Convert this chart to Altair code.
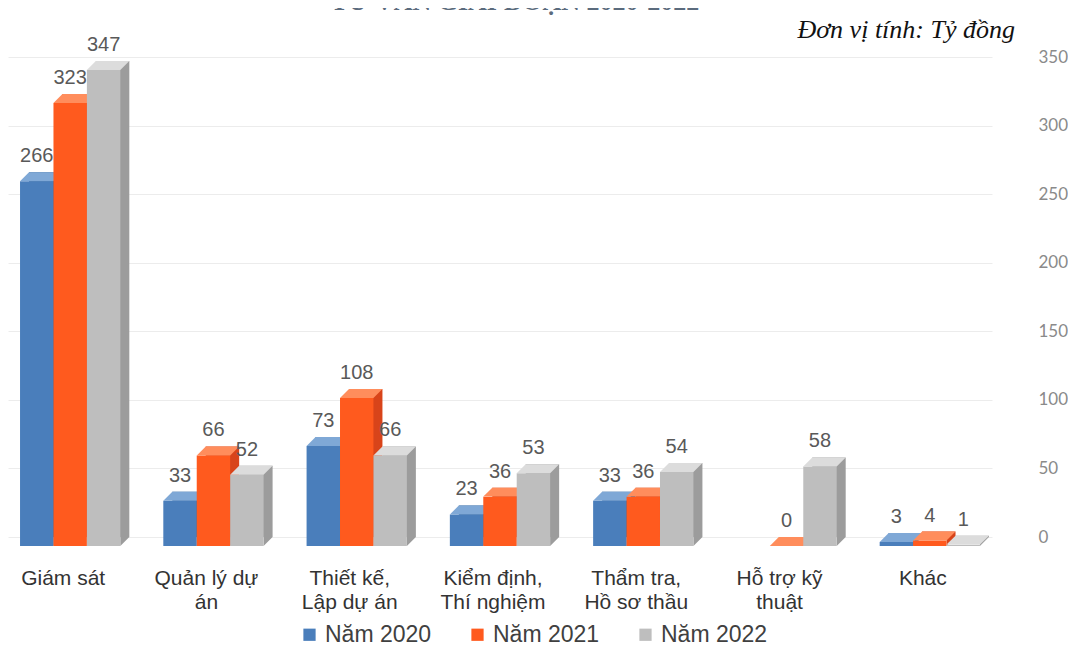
import altair as alt
import pandas as pd

categories = ["Giám sát", "Quản lý dự\nán", "Thiết kế,\nLập dự án", "Kiểm định,\nThí nghiệm",
              "Thẩm tra,\nHồ sơ thầu", "Hỗ trợ kỹ\nthuật", "Khác"]
series = ["Năm 2020", "Năm 2021", "Năm 2022"]
v2020 = [266, 33, 73, 23, 33, None, 3]
v2021 = [323, 66, 108, 36, 36, 0, 4]
v2022 = [347, 52, 66, 53, 54, 58, 1]
y_ticks = [0, 50, 100, 150, 200, 250, 300, 350]
title_text = ["TƯ VẤN GIAI ĐOẠN 2020-2022"]
unit_text = ["Đơn vị tính: Tỷ đồng"]

front_colors = ["#4A7EBB", "#FF5A1E", "#BEBEBE"]
top_colors = ["#7FA8D6", "#FF8D5C", "#DCDCDC"]
side_colors = ["#2F5F94", "#D8441A", "#9C9C9C"]

rows = []
for s, vals in zip(series, [v2020, v2021, v2022]):
    for c, v in zip(categories, vals):
        if v is not None:
            rows.append({"cat": c, "series": s, "value": v, "zero": 0})
df = pd.DataFrame(rows)

W, H = 984, 480
DEPTH = 9
P_IN, P_OUT = 0.3, 0.084
BW = W / (7 - P_IN + 2 * P_OUT) * (1 - P_IN)
sub_band = BW / 3
r = sub_band / 2
u = DEPTH / r
SIZE = sub_band ** 2
TOP_PATH = f"M -1 {u:.3f} L 1 {u:.3f} L {1+u:.3f} 0 L {-1+u:.3f} 0 Z"
BOT_PATH = f"M 1 0 L {1+u:.3f} 0 L 1 {u:.3f} Z"

x_enc = alt.X("cat:N", sort=categories,
              scale=alt.Scale(domain=categories, paddingInner=P_IN, paddingOuter=P_OUT),
              axis=alt.Axis(title=None, labelAngle=0, domain=False, ticks=False,
                            labelExpr="split(datum.label, '\\n')",
                            labelFont="Liberation Sans", labelFontSize=21, labelColor="#333333",
                            labelLineHeight=24, labelBaseline="top", labelPadding=30,
                            labelOffset=-7, labelOverlap=False))
xo_enc = alt.XOffset("series:N", scale=alt.Scale(type="band", domain=series, range=[0, BW],
                                                 paddingInner=0, paddingOuter=0))
xo_back = alt.XOffset("series:N", scale=alt.Scale(type="band", domain=series,
                                                  range=[DEPTH, DEPTH + BW],
                                                  paddingInner=0, paddingOuter=0))
y_enc = alt.Y("value:Q", scale=alt.Scale(domain=[0, 350], nice=False),
              axis=alt.Axis(title=None, orient="right", values=y_ticks, domain=False, ticks=False,
                            labelFont="Lato", labelFontSize=17, labelColor="#8a8a8a",
                            labelPadding=46, grid=True, gridColor="#ececec"))

layers = []
for i, s in enumerate(series):
    base = alt.Chart(df).transform_filter(alt.datum.series == s)
    back = base.mark_bar(color=side_colors[i]).encode(
        x=x_enc, xOffset=xo_back, y=y_enc)
    bottom = base.mark_point(shape=BOT_PATH, size=SIZE, filled=True, opacity=1,
                             strokeWidth=0, color=side_colors[i]).encode(
        x=x_enc, xOffset=xo_enc, y=alt.Y("zero:Q"))
    front = base.mark_bar(yOffset=DEPTH, y2Offset=DEPTH).encode(
        x=x_enc, xOffset=xo_enc, y=y_enc,
        color=alt.Color("series:N", scale=alt.Scale(domain=series, range=front_colors),
                        legend=alt.Legend(title=None, orient="none", direction="horizontal",
                                          legendX=290, legendY=566, symbolType="square",
                                          symbolSize=150, labelFont="Liberation Sans",
                                          labelFontSize=23, labelColor="#404040",
                                          columnPadding=34, labelOffset=4)))
    top = base.mark_point(shape=TOP_PATH, size=SIZE, filled=True, opacity=1,
                          strokeWidth=0, color=top_colors[i]).encode(
        x=x_enc, xOffset=xo_enc, y=y_enc)
    labels = base.mark_text(dy=-6, dx=0, baseline="bottom", font="Liberation Sans",
                            fontSize=20, color="#595959").encode(
        x=x_enc, xOffset=xo_enc, y=y_enc, text="value:Q")
    layers += [back, bottom, front, top, labels]

title_layer = alt.Chart(pd.DataFrame({"t": title_text})).mark_text(
    align="center", baseline="alphabetic", font="Liberation Serif", fontWeight="bold",
    fontSize=26, color="#5b6b7d").encode(text="t:N", x=alt.value(507), y=alt.value(-47))
unit_layer = alt.Chart(pd.DataFrame({"t": unit_text})).mark_text(
    align="right", baseline="alphabetic", font="Liberation Serif", fontStyle="italic",
    fontSize=26, color="#111111").encode(text="t:N", x=alt.value(1007), y=alt.value(-19))

chart = alt.layer(*layers, title_layer, unit_layer).resolve_scale(
    xOffset="independent"
).properties(
    width=W, height=H,
    padding={"left": 0, "top": 49, "right": 76, "bottom": 111},
    autosize=alt.AutoSizeParams(type="none"),
).configure_view(stroke=None)

chart.save("out.html", embed_options={"renderer": "svg", "actions": False})
